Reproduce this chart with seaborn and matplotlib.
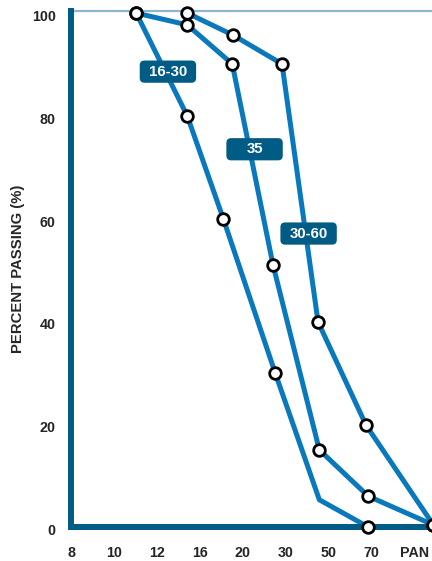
import pandas as pd
import matplotlib
matplotlib.use("Agg")
import matplotlib.pyplot as plt
import matplotlib.transforms as mtrans
from matplotlib.patches import FancyBboxPatch
import seaborn as sns

# sieve positions (in tick-index units) and percent passing
x_1630 = [1.52, 2.71, 3.55, 4.76, 5.79, 6.93]
y_1630 = [100, 80, 60, 30, 5.3, 0]
mark_1630 = [True, True, True, True, False, True]

x_35 = [1.52, 2.71, 3.76, 4.71, 5.79, 6.93, 8.45]
y_35 = [100, 97.7, 90.1, 51.0, 15.0, 6.0, 0.4]
mark_35 = [True] * 7

x_3060 = [2.71, 3.78, 4.92, 5.76, 6.88, 8.45]
y_3060 = [100, 95.7, 90.1, 39.9, 19.8, 0.4]
mark_3060 = [True] * 6

sieve_labels = ['8', '10', '12', '16', '20', '30', '50', '70', 'PAN']
y_ticks = [0, 20, 40, 60, 80, 100]

series_names = ['16-30', '35', '30-60']
label_x = [2.26, 4.28, 5.54]
label_y = [88.6, 73.5, 57.1]

frames = []
for name, xs, ys, ms in [('16-30', x_1630, y_1630, mark_1630),
                         ('35', x_35, y_35, mark_35),
                         ('30-60', x_3060, y_3060, mark_3060)]:
    frames.append(pd.DataFrame({'sieve': xs, 'passing': ys, 'mark': ms, 'grade': name}))
df = pd.concat(frames, ignore_index=True)

sns.set_style("white")
plt.rcParams['font.family'] = ['Liberation Sans', 'DejaVu Sans']

line_blue = '#0a78bd'
dark_blue = '#005b85'

fig = plt.figure(figsize=(4.32, 5.61), dpi=100)
ax = fig.add_axes([71 / 432, 34 / 561, 386 / 432, 516 / 561])

sns.lineplot(data=df, x='sieve', y='passing', hue='grade', units='grade',
             estimator=None, sort=False, palette=[line_blue] * 3,
             linewidth=3.6, legend=False, ax=ax, zorder=2)
sns.scatterplot(data=df[df['mark']], x='sieve', y='passing', color='white',
                edgecolor='black', linewidth=2, s=70, legend=False, ax=ax,
                zorder=4, clip_on=False)

ax.set_xlim(0, 9)
ax.set_ylim(0, 100.4)
ax.set_xticks(range(len(sieve_labels)))
ax.set_xticklabels(sieve_labels)
ax.set_yticks(y_ticks)
ax.tick_params(axis='both', length=0, labelsize=10.3)
ax.tick_params(axis='x', pad=14)
ax.tick_params(axis='y', pad=11)
for lab in ax.get_xticklabels() + ax.get_yticklabels():
    lab.set_fontweight('bold')
for lab in ax.get_yticklabels():
    lab.set_transform(lab.get_transform() + mtrans.ScaledTranslation(0, -2.5 / 100, fig.dpi_scale_trans))

ax.set_xlabel('')
ax.set_ylabel('PERCENT PASSING (%)', fontsize=10.7, fontweight='bold', labelpad=5)

for side in ['left', 'bottom']:
    ax.spines[side].set_color(dark_blue)
    ax.spines[side].set_linewidth(4.3)
    ax.spines[side].set_zorder(3)
ax.spines['top'].set_color('#8db7cf')
ax.spines['top'].set_linewidth(1.6)
ax.spines['right'].set_visible(False)

# grade labels in rounded boxes
for name, cx, cy in zip(series_names, label_x, label_y):
    trans = (mtrans.Affine2D().scale(1 / 72) + fig.dpi_scale_trans
             + mtrans.ScaledTranslation(cx, cy, ax.transData))
    box = FancyBboxPatch((-20.3, -8), 40.6, 16,
                         boxstyle='round,pad=0,rounding_size=3.4',
                         fc=dark_blue, ec='none', transform=trans, zorder=5)
    ax.add_patch(box)
    ax.text(cx, cy, name, color='white', fontsize=10.8, fontweight='bold',
            ha='center', va='center', zorder=6)

fig.savefig('out.png', dpi=100)
